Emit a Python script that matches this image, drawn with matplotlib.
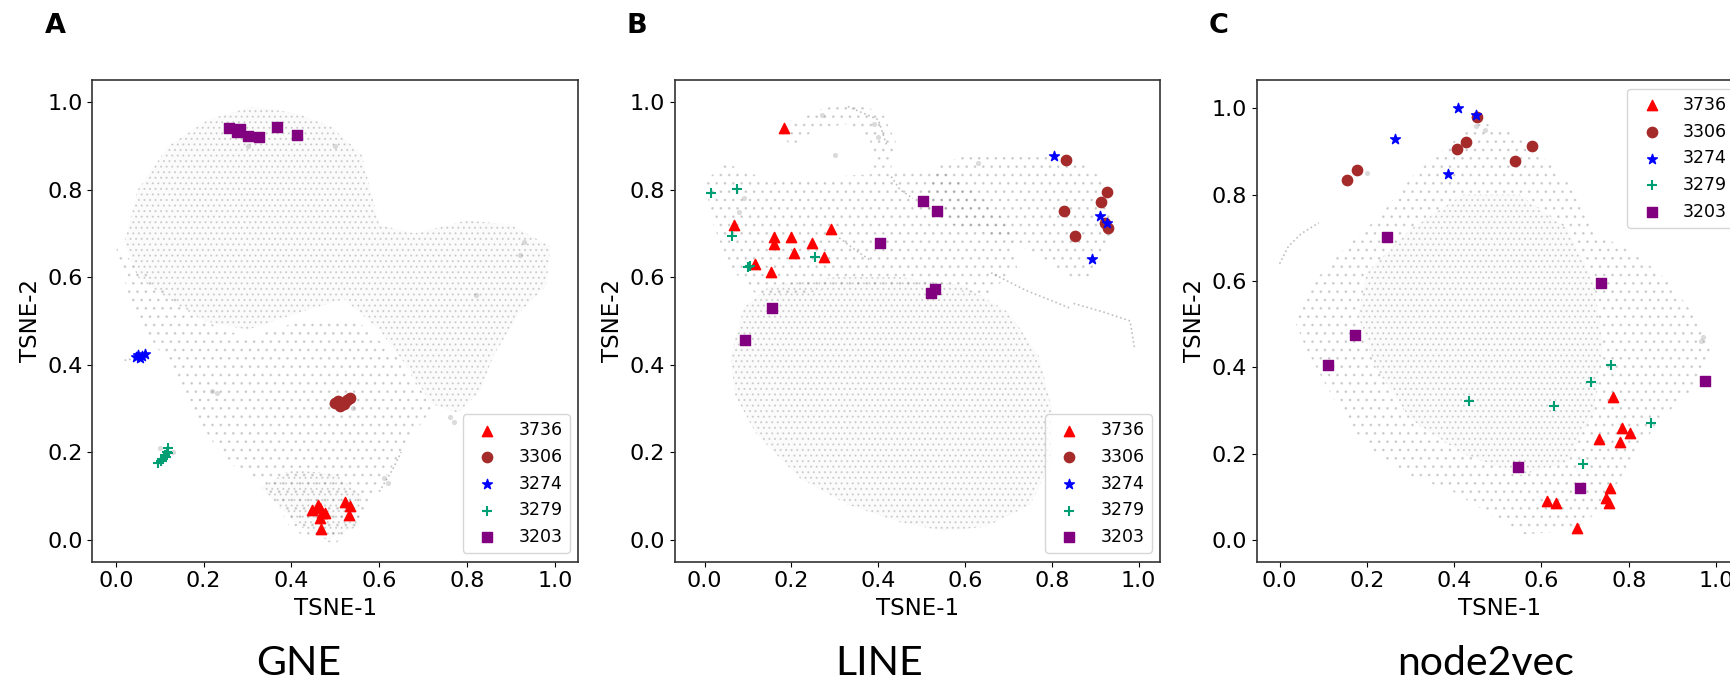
import matplotlib
matplotlib.use('Agg')
import matplotlib.pyplot as plt
from matplotlib.patches import Polygon, PathPatch
from matplotlib.path import Path

# communities shown in every panel
labels = ['3736', '3306', '3274', '3279', '3203']
markers = ['^', 'o', '*', '+', 's']
colors = ['red', 'brown', 'blue', '#009e73', 'purple']
titles = ['GNE', 'LINE', 'node2vec']
letters = ['A', 'B', 'C']

# ---- GNE (panel A) ----
gne_3736 = [(0.446, 0.067), (0.461, 0.080), (0.465, 0.072), (0.469, 0.061), (0.464, 0.050),
            (0.476, 0.061), (0.467, 0.024), (0.522, 0.087), (0.533, 0.077), (0.530, 0.057)]
gne_3306 = [(0.500, 0.313), (0.505, 0.316), (0.510, 0.306), (0.514, 0.312), (0.520, 0.310),
            (0.526, 0.320), (0.533, 0.325)]
gne_3274 = [(0.045, 0.418), (0.050, 0.423), (0.055, 0.415), (0.060, 0.420), (0.067, 0.425)]
gne_3279 = [(0.097, 0.176), (0.104, 0.180), (0.108, 0.185), (0.112, 0.194), (0.114, 0.190),
            (0.116, 0.201), (0.120, 0.209), (0.118, 0.198)]
gne_3203 = [(0.258, 0.940), (0.277, 0.931), (0.284, 0.938), (0.300, 0.923), (0.327, 0.920),
            (0.368, 0.943), (0.412, 0.926)]

# ---- LINE (panel B) ----
line_3736 = [(0.183, 0.942), (0.068, 0.719), (0.160, 0.693), (0.159, 0.677), (0.200, 0.693),
             (0.247, 0.679), (0.291, 0.711), (0.206, 0.656), (0.276, 0.647), (0.116, 0.630),
             (0.153, 0.613)]
line_3306 = [(0.833, 0.868), (0.926, 0.795), (0.913, 0.773), (0.828, 0.752), (0.853, 0.694),
             (0.923, 0.725), (0.930, 0.713)]
line_3274 = [(0.805, 0.877), (0.911, 0.741), (0.926, 0.723), (0.892, 0.642)]
line_3279 = [(0.015, 0.793), (0.075, 0.801), (0.064, 0.694), (0.101, 0.624), (0.105, 0.626),
             (0.255, 0.647)]
line_3203 = [(0.502, 0.774), (0.535, 0.752), (0.404, 0.679), (0.155, 0.529), (0.093, 0.457),
             (0.530, 0.574), (0.522, 0.563)]

# ---- node2vec (panel C) ----
n2v_3736 = [(0.763, 0.332), (0.784, 0.259), (0.804, 0.249), (0.731, 0.235), (0.781, 0.227),
            (0.758, 0.121), (0.748, 0.097), (0.755, 0.086), (0.613, 0.090), (0.633, 0.085),
            (0.681, 0.027)]
n2v_3306 = [(0.453, 0.979), (0.427, 0.922), (0.406, 0.906), (0.578, 0.912), (0.540, 0.877),
            (0.177, 0.858), (0.154, 0.834)]
n2v_3274 = [(0.408, 1.000), (0.450, 0.985), (0.264, 0.930), (0.386, 0.847)]
n2v_3279 = [(0.759, 0.405), (0.714, 0.365), (0.433, 0.322), (0.628, 0.310), (0.851, 0.270),
            (0.696, 0.175)]
n2v_3203 = [(0.247, 0.702), (0.736, 0.595), (0.172, 0.476), (0.110, 0.405), (0.975, 0.368),
            (0.546, 0.170), (0.688, 0.120)]

gne_dense = [[(0.02, 0.68), (0.05, 0.80), (0.12, 0.90), (0.21, 0.96), (0.31, 0.99), (0.41, 0.975),
              (0.49, 0.945), (0.56, 0.88), (0.58, 0.80), (0.60, 0.72), (0.68, 0.70), (0.80, 0.73),
              (0.90, 0.72), (0.99, 0.67), (0.98, 0.58), (0.92, 0.52), (0.86, 0.42), (0.83, 0.34),
              (0.78, 0.29), (0.72, 0.31), (0.66, 0.40), (0.60, 0.48), (0.52, 0.55), (0.42, 0.52),
              (0.30, 0.48), (0.20, 0.50), (0.12, 0.55), (0.05, 0.60)],
             [(0.33, 0.12), (0.40, 0.16), (0.50, 0.15), (0.56, 0.10), (0.55, 0.03), (0.48, 0.00),
              (0.42, 0.03)]]
gne_sparse = [[(0.0, 0.67), (0.04, 0.52), (0.12, 0.40), (0.17, 0.30), (0.25, 0.18), (0.35, 0.12),
               (0.40, 0.02), (0.50, -0.01), (0.56, 0.05), (0.60, 0.12), (0.65, 0.20), (0.72, 0.30),
               (0.66, 0.40), (0.55, 0.50), (0.42, 0.50), (0.30, 0.46), (0.20, 0.50), (0.10, 0.58)]]
gne_spots = [(0.11, 0.19), (0.13, 0.20), (0.10, 0.21), (0.22, 0.34), (0.23, 0.335), (0.77, 0.27),
             (0.76, 0.28), (0.62, 0.13), (0.61, 0.14), (0.49, 0.31), (0.54, 0.30), (0.93, 0.68),
             (0.92, 0.65), (0.82, 0.56), (0.3, 0.9), (0.5, 0.9)]
gne_streaks = [[(0.02, 0.410), (0.035, 0.413), (0.05, 0.416)],
               [(0.60, 0.11), (0.63, 0.16), (0.65, 0.20)]]

line_dense = [[(0.06, 0.42), (0.09, 0.53), (0.15, 0.58), (0.30, 0.60), (0.45, 0.60), (0.60, 0.58),
               (0.70, 0.52), (0.77, 0.42), (0.80, 0.30), (0.80, 0.18), (0.75, 0.08), (0.65, 0.03),
               (0.55, 0.02), (0.45, 0.04), (0.33, 0.08), (0.22, 0.14), (0.12, 0.24), (0.07, 0.33)]]
line_sparse = [[(0.0, 0.82), (0.05, 0.86), (0.15, 0.82), (0.30, 0.83), (0.45, 0.84), (0.55, 0.84),
                (0.62, 0.80), (0.70, 0.72), (0.72, 0.62), (0.65, 0.56), (0.50, 0.58), (0.35, 0.58),
                (0.20, 0.56), (0.12, 0.56), (0.06, 0.62), (0.02, 0.72)],
               [(0.17, 0.93), (0.25, 0.98), (0.34, 1.0), (0.41, 0.975), (0.44, 0.91), (0.43, 0.85),
                (0.39, 0.85), (0.38, 0.92), (0.33, 0.95), (0.26, 0.94), (0.20, 0.90)],
               [(0.50, 0.76), (0.53, 0.85), (0.60, 0.88), (0.72, 0.88), (0.84, 0.88), (0.91, 0.83),
                (0.94, 0.74), (0.93, 0.67), (0.89, 0.60), (0.84, 0.60), (0.75, 0.66), (0.65, 0.70),
                (0.57, 0.72)]]
line_spots = [(0.09, 0.78), (0.08, 0.75), (0.27, 0.97), (0.39, 0.95), (0.40, 0.92), (0.93, 0.70),
              (0.63, 0.86), (0.3, 0.88)]
line_streaks = [[(0.66, 0.61), (0.74, 0.57), (0.79, 0.55), (0.84, 0.53)],
                [(0.85, 0.54), (0.92, 0.52), (0.98, 0.50), (0.99, 0.44)],
                [(0.31, 0.69), (0.35, 0.66), (0.38, 0.64)],
                [(0.33, 0.99), (0.40, 0.96), (0.42, 0.90)],
                [(0.43, 0.83), (0.45, 0.80), (0.48, 0.78)]]

n2v_dense = [[(0.20, 0.62), (0.30, 0.72), (0.42, 0.80), (0.55, 0.80), (0.66, 0.72), (0.72, 0.60),
              (0.74, 0.45), (0.72, 0.30), (0.66, 0.18), (0.55, 0.15), (0.42, 0.20), (0.30, 0.28),
              (0.22, 0.40), (0.18, 0.52)]]
n2v_sparse = [[(0.035, 0.507), (0.077, 0.597), (0.16, 0.688), (0.227, 0.748), (0.31, 0.849),
               (0.394, 0.919), (0.452, 0.97), (0.527, 0.95), (0.602, 0.889), (0.669, 0.819),
               (0.727, 0.708), (0.81, 0.668), (0.894, 0.597), (0.96, 0.507), (0.994, 0.446),
               (0.944, 0.345), (0.877, 0.285), (0.81, 0.194), (0.752, 0.094), (0.686, 0.023),
               (0.56, 0.013), (0.477, 0.063), (0.394, 0.114), (0.31, 0.144), (0.227, 0.194),
               (0.16, 0.265), (0.102, 0.366), (0.06, 0.446)]]
n2v_spots = [(0.971, 0.471), (0.965, 0.46), (0.45, 0.96), (0.47, 0.95), (0.2, 0.85)]
n2v_streaks = [[(0.0, 0.64), (0.02, 0.68), (0.05, 0.71), (0.09, 0.735)]]

panels = [
    dict(groups=[gne_3736, gne_3306, gne_3274, gne_3279, gne_3203], dense=gne_dense,
         sparse=gne_sparse, spots=gne_spots, streaks=gne_streaks,
         xlim=(-0.053, 1.053), ylim=(-0.05, 1.05), loc='lower right', tx=0.425),
    dict(groups=[line_3736, line_3306, line_3274, line_3279, line_3203], dense=line_dense,
         sparse=line_sparse, spots=line_spots, streaks=line_streaks,
         xlim=(-0.069, 1.05), ylim=(-0.05, 1.05), loc='lower right', tx=0.421),
    dict(groups=[n2v_3736, n2v_3306, n2v_3274, n2v_3279, n2v_3203], dense=n2v_dense,
         sparse=n2v_sparse, spots=n2v_spots, streaks=n2v_streaks,
         xlim=(-0.052, 1.061), ylim=(-0.05, 1.065), loc='upper right', tx=0.47),
]


def ring_path(outer, dense):
    # sparse outline with any dense outline inside it cut out, so the hatches don't overlap
    verts = list(outer) + [outer[0]]
    codes = [Path.MOVETO] + [Path.LINETO] * (len(outer) - 1) + [Path.CLOSEPOLY]
    outer_path = Path(outer)
    for d in dense:
        cx = sum(q[0] for q in d) / len(d)
        cy = sum(q[1] for q in d) / len(d)
        if outer_path.contains_point((cx, cy)):
            rev = list(reversed(d))
            verts += rev + [rev[0]]
            codes += [Path.MOVETO] + [Path.LINETO] * (len(rev) - 1) + [Path.CLOSEPOLY]
    return Path(verts, codes)


plt.rcParams['hatch.linewidth'] = 0.8
fig = plt.figure(figsize=(17.31, 6.81), dpi=100)
lefts = [92.5, 674.7, 1256.9]
cloud = (0.5, 0.5, 0.5, 0.28)

for i, p in enumerate(panels):
    ax = fig.add_axes([lefts[i] / 1731, 1 - 561.6 / 681, 485.7 / 1731, 481.3 / 681])

    for poly in p['sparse']:
        ax.add_patch(PathPatch(ring_path(poly, p['dense']), fill=False, hatch='..',
                               edgecolor=cloud, linewidth=0))
    for poly in p['dense']:
        ax.add_patch(Polygon(poly, closed=True, facecolor=(0.5, 0.5, 0.5, 0.03), hatch='...',
                             edgecolor=cloud, linewidth=0))
    for st in p['streaks']:
        ax.plot([q[0] for q in st], [q[1] for q in st], ':', color='0.45', lw=1.2, alpha=0.45)
    ax.scatter([q[0] for q in p['spots']], [q[1] for q in p['spots']], s=14, color='0.45',
               alpha=0.25, linewidths=0)

    for pts, lab, m, c in zip(p['groups'], labels, markers, colors):
        ax.scatter([q[0] for q in pts], [q[1] for q in pts], marker=m, color=c, s=55,
                   label=lab, zorder=3)

    ax.set_xlim(p['xlim'])
    ax.set_ylim(p['ylim'])
    ax.set_xticks([0, 0.2, 0.4, 0.6, 0.8, 1.0])
    ax.set_yticks([0, 0.2, 0.4, 0.6, 0.8, 1.0])
    ax.tick_params(labelsize=16)
    ax.set_xlabel('TSNE-1', fontsize=16.5)
    ax.set_ylabel('TSNE-2', fontsize=16.5)
    for sp in ax.spines.values():
        sp.set_color('#333333')
        sp.set_linewidth(1.2)
    ax.legend(loc=p['loc'], fontsize=12.5)

    fig.text((lefts[i] - 48) / 1731, 1 - 32.6 / 681, letters[i], fontsize=19.5,
             fontweight='bold', ha='left', va='baseline')
    fig.text((lefts[i] + p['tx'] * 485.7) / 1731, 1 - 675.3 / 681, titles[i],
             fontsize=29.5, family='Lato', ha='center', va='baseline')

fig.savefig('out.png', dpi=100)
